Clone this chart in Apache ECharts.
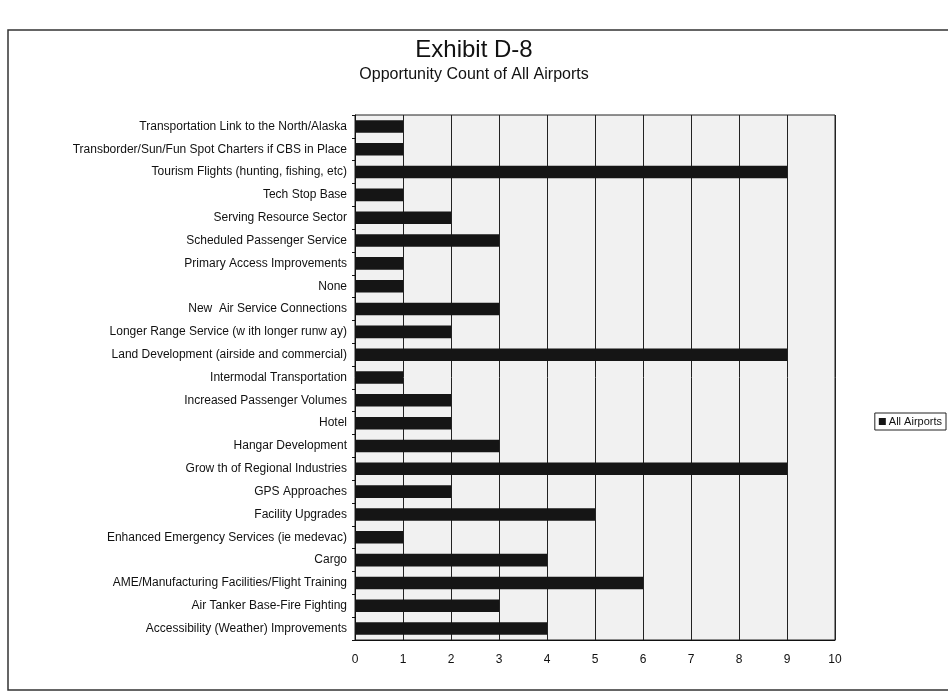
<!DOCTYPE html>
<html>
<head>
<meta charset="utf-8">
<script src="https://cdn.jsdelivr.net/npm/echarts@6/dist/echarts.min.js"></script>
<style>
html,body{margin:0;padding:0;background:#fff;}
#chart{width:948px;height:699px;}
</style>
</head>
<body>
<div id="chart"></div>
<script>
// Categories listed top to bottom as shown
var categories = [
  "Transportation Link to the North/Alaska",
  "Transborder/Sun/Fun Spot Charters if CBS in Place",
  "Tourism Flights (hunting, fishing, etc)",
  "Tech Stop Base",
  "Serving Resource Sector",
  "Scheduled Passenger Service",
  "Primary Access Improvements",
  "None",
  "New  Air Service Connections",
  "Longer Range Service (w ith longer runw ay)",
  "Land Development (airside and commercial)",
  "Intermodal Transportation",
  "Increased Passenger Volumes",
  "Hotel",
  "Hangar Development",
  "Grow th of Regional Industries",
  "GPS Approaches",
  "Facility Upgrades",
  "Enhanced Emergency Services (ie medevac)",
  "Cargo",
  "AME/Manufacturing Facilities/Flight Training",
  "Air Tanker Base-Fire Fighting",
  "Accessibility (Weather) Improvements"
];
var allAirports = [1, 1, 9, 1, 2, 3, 1, 1, 3, 2, 9, 1, 2, 2, 3, 9, 2, 5, 1, 4, 6, 3, 4];
var xTicks = [0, 1, 2, 3, 4, 5, 6, 7, 8, 9, 10];
var seriesName = "All Airports";
var titleText = "Exhibit D-8";
var subtitleText = "Opportunity Count of All Airports";

var chart = echarts.init(document.getElementById('chart'));
var font = "'Liberation Sans', Arial, sans-serif";
chart.setOption({
  animation: false,
  backgroundColor: '#ffffff',
  textStyle: {fontFamily: font},
  title: {
    text: titleText,
    subtext: subtitleText,
    left: 'center',
    top: 33,
    itemGap: 5,
    textStyle: {fontFamily: font, fontSize: 24, fontWeight: 'normal', color: '#111'},
    subtextStyle: {fontFamily: font, fontSize: 16, color: '#111'}
  },
  legend: {
    data: [seriesName],
    right: 2,
    top: 413,
    orient: 'vertical',
    itemWidth: 7,
    itemHeight: 7,
    itemGap: 4,
    padding: [3, 4, 3, 4],
    borderColor: '#222',
    borderWidth: 1,
    textStyle: {fontFamily: font, fontSize: 11, color: '#111', padding: [0, 0, 0, -2]},
    icon: 'rect'
  },
  grid: {left: 355, right: 113, top: 115, bottom: 59, containLabel: false},
  xAxis: {
    type: 'value',
    min: 0,
    max: 10,
    interval: 1,
    axisLine: {show: true, lineStyle: {color: '#111', width: 1}},
    axisTick: {show: false},
    axisLabel: {color: '#111', fontSize: 12, fontFamily: font, margin: 14},
    splitLine: {show: true, lineStyle: {color: '#222', width: 1}}
  },
  yAxis: {
    type: 'category',
    data: categories,
    inverse: true,
    axisLine: {show: true, lineStyle: {color: '#111', width: 1}},
    axisTick: {show: true, length: 3, lineStyle: {color: '#111'}},
    axisLabel: {color: '#111', fontSize: 12, fontFamily: font, margin: 8, interval: 0},
    splitLine: {show: false}
  },
  graphic: [
    {type: 'rect', shape: {x: 8, y: 30, width: 950, height: 660}, style: {fill: 'none', stroke: '#333', lineWidth: 1.5}, z: -1},
    {type: 'rect', shape: {x: 355, y: 115, width: 480, height: 525}, style: {fill: '#f1f1f1', stroke: '#222', lineWidth: 1}, z: -1, silent: true}
  ],
  series: [{
    name: seriesName,
    type: 'bar',
    data: allAirports,
    barWidth: '55%',
    itemStyle: {color: '#151515', borderColor: '#000', borderWidth: 0}
  }]
});
</script>
</body>
</html>
